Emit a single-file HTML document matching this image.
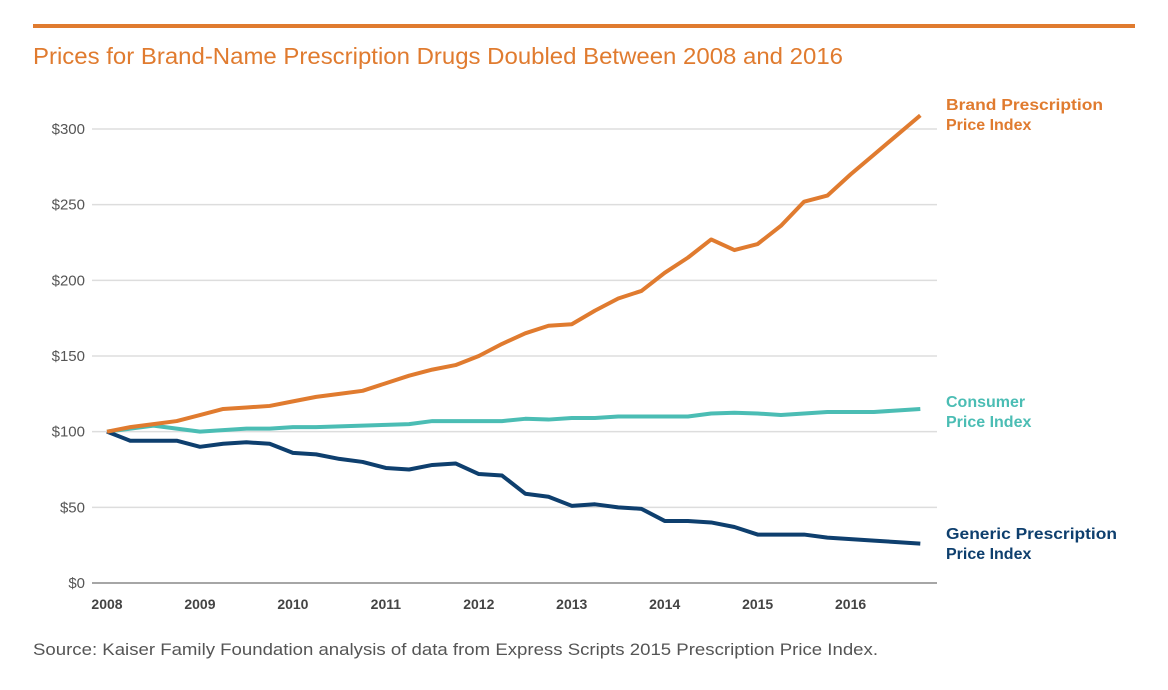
<!DOCTYPE html>
<html><head><meta charset="utf-8"><style>
body{margin:0;background:#fff;font-family:"Liberation Sans",sans-serif}
</style></head><body>
<svg width="1168" height="685" viewBox="0 0 1168 685" id="svg" font-family="Liberation Sans, sans-serif">
<rect x="33" y="24" width="1102" height="4" fill="#e07b2f"/>
<text x="33" y="64" font-size="23" fill="#e07b2f" textLength="810" lengthAdjust="spacingAndGlyphs">Prices for Brand-Name Prescription Drugs Doubled Between 2008 and 2016</text>
<g id="grid"></g><g id="lines"></g>
<text x="946" y="110" font-size="16" font-weight="bold" fill="#e07b2f"><tspan x="946" textLength="157" lengthAdjust="spacingAndGlyphs">Brand Prescription</tspan><tspan x="946" dy="20">Price Index</tspan></text>
<text x="946" y="407" font-size="16" font-weight="bold" fill="#4bbdb4"><tspan x="946">Consumer</tspan><tspan x="946" dy="20">Price Index</tspan></text>
<text x="946" y="539" font-size="16" font-weight="bold" fill="#0e3f6e"><tspan x="946" textLength="171" lengthAdjust="spacingAndGlyphs">Generic Prescription</tspan><tspan x="946" dy="20">Price Index</tspan></text>
<text x="33" y="655" font-size="17" fill="#555" textLength="845" lengthAdjust="spacingAndGlyphs">Source: Kaiser Family Foundation analysis of data from Express Scripts 2015 Prescription Price Index.</text>
</svg>
<script>
const yTicks=[0,50,100,150,200,250,300];
const yearLabels=["2008","2009","2010","2011","2012","2013","2014","2015","2016"];
const brand=[100,103,105,107,111,115,116,117,120,123,125,127,132,137,141,144,150,158,165,170,171,180,188,193,205,215,227,220,224,236,252,256,270,283,296,309];
const consumer=[100,102,104,102,100,101,102,102,103,103,103.5,104,104.5,105,107,107,107,107,108.5,108,109,109,110,110,110,110,112,112.5,112,111,112,113,113,113,114,115];
const generic=[100,94,94,94,90,92,93,92,86,85,82,80,76,75,78,79,72,71,59,57,51,52,50,49,41,41,40,37,32,32,32,30,29,28,27,26];
const NS="http://www.w3.org/2000/svg";
const x=q=>107+q*(92.95/4);
const y=v=>583-v*(454/300);
const grid=document.getElementById('grid'),lines=document.getElementById('lines');
function mk(tag,attrs,parent){const e=document.createElementNS(NS,tag);for(const k in attrs)e.setAttribute(k,attrs[k]);parent.appendChild(e);return e;}
yTicks.forEach(t=>{
 const l=mk('line',{x1:92,x2:937,y1:y(t),y2:y(t),stroke:t===0?'#888':'#ddd','stroke-width':1.5},grid);
 
 
 const tx=mk('text',{x:85,y:y(t)+5,'text-anchor':'end','font-size':15,fill:'#555'},grid);
 tx.textContent='$'+t;
 
 
});
yearLabels.forEach((lab,i)=>{
 const tx=mk('text',{x:x(i*4),y:609,'text-anchor':'middle','font-size':14,'font-weight':'bold',fill:'#444'},grid);
 tx.textContent=lab;
 
 
});
[[consumer,'#4bbdb4','consumer-line'],[generic,'#0e3f6e','generic-line'],[brand,'#e07b2f','brand-line']].forEach(([d,c,n])=>{
 const p=mk('polyline',{points:d.map((v,i)=>x(i)+','+y(v)).join(' '),fill:'none',stroke:c,'stroke-width':4,'stroke-linejoin':'round'},lines);
 
 
});
</script>
</body></html>
